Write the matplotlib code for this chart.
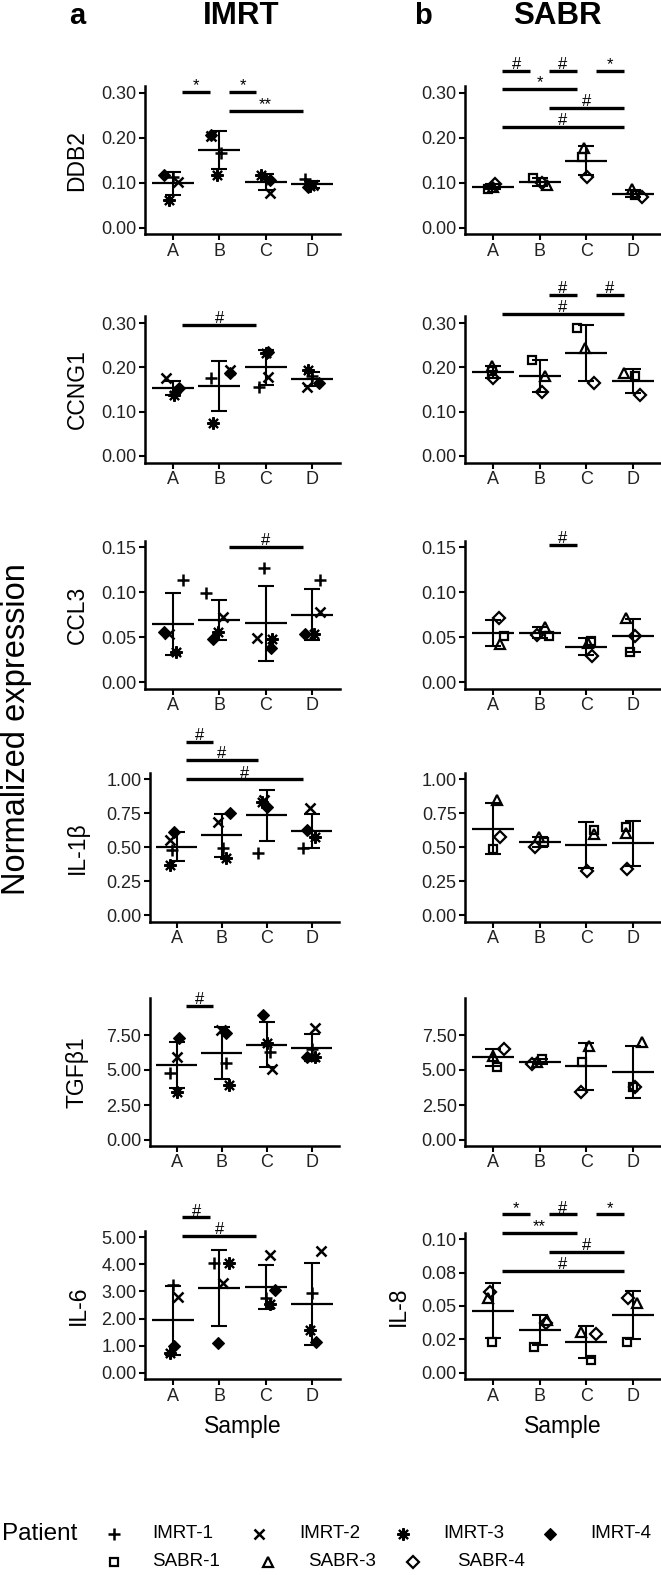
import matplotlib
matplotlib.use("Agg")
import matplotlib.pyplot as plt
import numpy as np
from matplotlib.lines import Line2D

plt.rcParams['font.family'] = ['Liberation Sans', 'DejaVu Sans']

W, H = 661, 1575
fig = plt.figure(figsize=(W / 100, H / 100), dpi=100)

samples = ["A", "B", "C", "D"]
imrt_patients = ["IMRT-1", "IMRT-2", "IMRT-3", "IMRT-4"]
sabr_patients = ["SABR-1", "SABR-3", "SABR-4"]

# expression values: [sample][patient]
ddb2_imrt = [[0.113, 0.102, 0.062, 0.117], [0.165, 0.203, 0.117, 0.206],
             [0.109, 0.076, 0.117, 0.106], [0.108, 0.095, 0.092, 0.091]]
ddb2_sabr = [[0.086, 0.090, 0.097], [0.111, 0.094, 0.100],
             [0.158, 0.176, 0.113], [0.073, 0.085, 0.069]]
ccng1_imrt = [[0.145, 0.175, 0.138, 0.153], [0.175, 0.194, 0.074, 0.187],
              [0.156, 0.179, 0.232, 0.235], [0.180, 0.156, 0.194, 0.165]]
ccng1_sabr = [[0.192, 0.203, 0.175], [0.217, 0.181, 0.145],
              [0.288, 0.243, 0.164], [0.181, 0.187, 0.138]]
ccl3_imrt = [[0.114, 0.054, 0.034, 0.056], [0.099, 0.073, 0.056, 0.048],
             [0.127, 0.049, 0.048, 0.038], [0.114, 0.078, 0.054, 0.054]]
ccl3_sabr = [[0.051, 0.043, 0.071], [0.051, 0.062, 0.053],
             [0.046, 0.044, 0.029], [0.034, 0.071, 0.051]]
il1b_imrt = [[0.480, 0.553, 0.369, 0.614], [0.492, 0.688, 0.418, 0.750],
             [0.455, 0.848, 0.836, 0.799], [0.492, 0.787, 0.578, 0.627]]
il1b_sabr = [[0.487, 0.848, 0.577], [0.541, 0.573, 0.504],
             [0.630, 0.600, 0.325], [0.647, 0.602, 0.337]]
tgfb1_imrt = [[4.76, 5.95, 3.45, 7.26], [5.48, 7.86, 3.93, 7.62],
              [6.31, 5.05, 6.90, 8.93], [6.50, 7.98, 5.95, 5.95]]
tgfb1_sabr = [[5.24, 6.00, 6.48], [5.76, 5.60, 5.43],
              [5.60, 6.71, 3.45], [3.81, 7.02, 3.81]]
il6_imrt = [[3.24, 2.78, 0.72, 0.99], [4.04, 3.32, 4.04, 1.11],
            [2.75, 4.35, 2.54, 3.05], [2.95, 4.49, 1.58, 1.15]]
il8_sabr = [[0.0228, 0.0558, 0.0607], [0.0195, 0.0395, 0.0370],
            [0.0095, 0.0307, 0.0290], [0.0228, 0.0520, 0.0558]]

# horizontal jitter of each point (fraction of category spacing)
ddb2_imrt_jit = [[0.0, 0.10, -0.08, -0.19], [0.04, -0.17, -0.04, -0.17],
                 [0.0, 0.10, -0.10, 0.10], [-0.15, 0.02, -0.05, -0.10]]
ddb2_sabr_jit = [[-0.10, 0.0, 0.05], [-0.14, 0.16, 0.05],
                 [-0.09, -0.06, 0.01], [0.05, -0.02, 0.19]]
ccng1_imrt_jit = [[0.05, -0.15, 0.03, 0.14], [-0.17, 0.22, -0.14, 0.22],
                  [-0.14, 0.04, 0.0, 0.04], [0.0, -0.11, -0.08, 0.14]]
ccng1_sabr_jit = [[-0.02, -0.02, 0.01], [-0.16, 0.12, 0.05],
                  [-0.20, -0.02, 0.16], [0.05, -0.20, 0.16]]
ccl3_imrt_jit = [[0.21, -0.08, 0.06, -0.19], [-0.28, 0.08, -0.03, -0.14],
                 [-0.04, -0.18, 0.14, 0.11], [0.17, 0.17, 0.03, -0.15]]
ccl3_sabr_jit = [[0.23, 0.16, 0.12], [0.19, 0.12, -0.06],
                 [0.09, 0.03, 0.12], [-0.06, -0.16, 0.05]]
il1b_imrt_jit = [[-0.11, -0.15, -0.15, -0.07], [0.03, -0.08, 0.10, 0.18],
                 [-0.19, -0.07, -0.11, 0.0], [-0.19, -0.04, 0.07, -0.11]]
il1b_sabr_jit = [[-0.01, 0.09, 0.16], [0.09, -0.02, -0.11],
                 [0.16, 0.16, 0.01], [-0.16, -0.16, -0.13]]
tgfb1_imrt_jit = [[-0.16, 0.0, 0.0, 0.06], [0.10, -0.01, 0.17, 0.10],
                  [0.07, 0.11, 0.0, -0.08], [0.0, 0.07, 0.07, -0.11]]
tgfb1_sabr_jit = [[0.09, 0.01, 0.23], [0.05, -0.06, -0.16],
                  [-0.09, 0.05, -0.11], [0.01, 0.19, 0.05]]
il6_imrt_jit = [[0.0, 0.11, -0.07, 0.02], [-0.11, 0.07, 0.20, -0.02],
                [0.0, 0.10, 0.10, 0.19], [0.0, 0.18, -0.05, 0.09]]
il8_sabr_jit = [[-0.03, -0.10, -0.06], [-0.13, 0.16, 0.13],
                [0.09, -0.11, 0.20], [-0.12, 0.08, -0.10]]

# significance brackets: (from sample, to sample, height, label)
ddb2_imrt_sig = [(0, 1, 0.302, "*"), (1, 2, 0.302, "*"), (1, 3, 0.260, "**")]
ddb2_sabr_sig = [(0, 1, 0.349, "#"), (1, 2, 0.349, "#"), (2, 3, 0.349, "*"),
                 (0, 2, 0.3076, "*"), (1, 3, 0.266, "#"), (0, 3, 0.2244, "#")]
ccng1_imrt_sig = [(0, 2, 0.2955, "#")]
ccng1_sabr_sig = [(1, 2, 0.363, "#"), (2, 3, 0.363, "#"), (0, 3, 0.320, "#")]
ccl3_imrt_sig = [(1, 3, 0.1507, "#")]
ccl3_sabr_sig = [(1, 2, 0.1526, "#")]
il1b_imrt_sig = [(0, 1, 1.278, "#"), (0, 2, 1.143, "#"), (0, 3, 1.000, "#")]
il1b_sabr_sig = []
tgfb1_imrt_sig = [(0, 1, 9.57, "#")]
tgfb1_sabr_sig = []
il6_imrt_sig = [(0, 1, 5.74, "#"), (0, 2, 5.06, "#")]
il8_sabr_sig = [(0, 1, 0.1187, "*"), (1, 2, 0.1187, "#"), (2, 3, 0.1187, "*"),
                (0, 2, 0.1049, "**"), (1, 3, 0.0907, "#"), (0, 3, 0.0765, "#")]

# marker styles
imrt_styles = [dict(marker='+', ms=9, mew=1.8, color='k'),
               dict(marker='x', ms=7, mew=1.8, color='k'),
               dict(marker=(8, 2, 0), ms=9, mew=1.5, color='k'),
               dict(marker='D', ms=6.2, mew=0.8, color='k', mfc='k')]
sabr_styles = [dict(marker='s', ms=6.3, mew=1.6, color='k', mfc='none'),
               dict(marker='^', ms=7.5, mew=1.6, color='k', mfc='none'),
               dict(marker='D', ms=6.3, mew=1.6, color='k', mfc='none')]

TICK_FS = 13
LAB_FS = 16.5


def panel(x0, x1, zero_px, ppu, ylim, vals, jit, styles, ticks, ticklabels,
          sig, ylabel=None, ylabel_x=None):
    top = zero_px - ylim[1] * ppu
    bot = zero_px - ylim[0] * ppu
    ax = fig.add_axes([x0 / W, 1 - bot / H, (x1 - x0) / W, (bot - top) / H])
    ax.set_xlim(0.4, 4.6)
    ax.set_ylim(*ylim)
    for i, grp in enumerate(vals):
        x = i + 1
        m = np.mean(grp)
        s = np.std(grp, ddof=1)
        ax.errorbar(x, m, yerr=s, fmt='none', ecolor='k', elinewidth=1.5,
                    capsize=6, capthick=1.5, zorder=2)
        ax.hlines(m, x - 0.45, x + 0.45, colors='k', lw=1.6, zorder=2)
        for j, v in enumerate(grp):
            ax.plot(x + jit[i][j], v, linestyle='none', zorder=3, **styles[j])
    for a, b, y, lab in sig:
        ax.plot([a + 1.2, b + 0.8], [y, y], color='k', lw=2.4, clip_on=False,
                solid_capstyle='butt')
        ax.annotate(lab, xy=((a + b) / 2 + 1, y), xytext=(0, 1.2),
                    textcoords='offset points', ha='center', va='baseline',
                    fontsize=12, annotation_clip=False)
    ax.set_xticks(range(1, 5))
    ax.set_xticklabels(samples)
    ax.set_yticks(ticks)
    ax.set_yticklabels(ticklabels)
    for sp in ['top', 'right']:
        ax.spines[sp].set_visible(False)
    for sp in ['left', 'bottom']:
        ax.spines[sp].set_linewidth(1.8)
    ax.tick_params(axis='both', length=4, width=1.5, labelsize=TICK_FS,
                   pad=2, colors='k', labelcolor='#222222')
    if ylabel:
        fig.text(ylabel_x / W, 1 - ((top + bot) / 2) / H, ylabel, rotation=90,
                 ha='center', va='center', fontsize=LAB_FS)
    return ax


LX0, LX1 = 145, 340
LX0b, LX1b = 149.7, 338.7
RX0, RX1 = 465, 661

t3 = [0, 0.1, 0.2, 0.3]
t3l = ["0.00", "0.10", "0.20", "0.30"]
# row 1
panel(LX0, LX1, 227.7, 450, (-0.015, 0.315), ddb2_imrt, ddb2_imrt_jit,
      imrt_styles, t3, t3l, ddb2_imrt_sig, "DDB2", 77)
panel(RX0, RX1, 227.7, 450, (-0.015, 0.315), ddb2_sabr, ddb2_sabr_jit,
      sabr_styles, t3, t3l, ddb2_sabr_sig)
# row 2
panel(LX0, LX1, 456, 443.3, (-0.015, 0.315), ccng1_imrt, ccng1_imrt_jit,
      imrt_styles, t3, t3l, ccng1_imrt_sig, "CCNG1", 77)
panel(RX0, RX1, 456, 443.3, (-0.015, 0.315), ccng1_sabr, ccng1_sabr_jit,
      sabr_styles, t3, t3l, ccng1_sabr_sig)
# row 3
tc = [0, 0.05, 0.10, 0.15]
tcl = ["0.00", "0.05", "0.10", "0.15"]
panel(LX0, LX1, 682.3, 900, (-0.0075, 0.1575), ccl3_imrt, ccl3_imrt_jit,
      imrt_styles, tc, tcl, ccl3_imrt_sig, "CCL3", 77)
panel(RX0, RX1, 682.3, 900, (-0.0075, 0.1575), ccl3_sabr, ccl3_sabr_jit,
      sabr_styles, tc, tcl, ccl3_sabr_sig)
# row 4
ti = [0, 0.25, 0.5, 0.75, 1.0]
til = ["0.00", "0.25", "0.50", "0.75", "1.00"]
panel(LX0b, LX1b, 915, 135.6, (-0.05, 1.05), il1b_imrt, il1b_imrt_jit,
      imrt_styles, ti, til, il1b_imrt_sig, "IL-1β", 77)
panel(RX0, RX1, 915, 135.6, (-0.05, 1.05), il1b_sabr, il1b_sabr_jit,
      sabr_styles, ti, til, il1b_sabr_sig)
# row 5
tt = [0, 2.5, 5.0, 7.5]
ttl = ["0.00", "2.50", "5.00", "7.50"]
panel(LX0b, LX1b, 1140, 14, (-0.43, 10.14), tgfb1_imrt, tgfb1_imrt_jit,
      imrt_styles, tt, ttl, tgfb1_imrt_sig, "TGFβ1", 77)
panel(RX0, RX1, 1140, 14, (-0.43, 10.14), tgfb1_sabr, tgfb1_sabr_jit,
      sabr_styles, tt, ttl, tgfb1_sabr_sig)
# row 6
t6 = [0, 1, 2, 3, 4, 5]
t6l = ["0.00", "1.00", "2.00", "3.00", "4.00", "5.00"]
panel(LX0, LX1, 1372.7, 27.08, (-0.25, 5.25), il6_imrt, il6_imrt_jit,
      imrt_styles, t6, t6l, il6_imrt_sig, "IL-6", 78)
t8 = [0, 0.025, 0.05, 0.075, 0.1]
t8l = ["0.00", "0.02", "0.05", "0.08", "0.10"]
panel(RX0, RX1, 1372.7, 1334, (-0.005, 0.105), il8_sabr, il8_sabr_jit,
      sabr_styles, t8, t8l, il8_sabr_sig, "IL-8", 398)


def px(x, y):
    return x / W, 1 - y / H


# titles
fig.text(*px(77, 24.5), "a", ha='center', va='baseline', fontsize=21, fontweight='bold')
fig.text(*px(241, 24.5), "IMRT", ha='center', va='baseline', fontsize=22.5, fontweight='bold')
fig.text(*px(423, 24.5), "b", ha='center', va='baseline', fontsize=21, fontweight='bold')
fig.text(*px(557, 24.5), "SABR", ha='center', va='baseline', fontsize=22.5, fontweight='bold')

# shared labels
fig.text(*px(16.5, 729), "Normalized expression", rotation=90, ha='center',
         va='center', fontsize=23.5)
fig.text(*px(243, 1427), "Sample", ha='center', va='center', fontsize=LAB_FS)
fig.text(*px(563, 1427), "Sample", ha='center', va='center', fontsize=LAB_FS)

# legend
ROW1, ROW2 = 1534, 1562
fig.text(*px(2, ROW1), "Patient", ha='left', va='center', fontsize=17.5)
row1_mx = [114, 259, 403, 550]
row1_tx = [152, 299, 443, 590]
for name, st, mx, tx in zip(imrt_patients, imrt_styles, row1_mx, row1_tx):
    fig.add_artist(Line2D([mx / W], [1 - ROW1 / H], linestyle='none',
                          transform=fig.transFigure, **st))
    fig.text(*px(tx, ROW1), name, ha='left', va='center', fontsize=13.5)
row2_mx = [114, 268, 413]
row2_tx = [152, 308, 457]
for name, st, mx, tx in zip(sabr_patients, sabr_styles, row2_mx, row2_tx):
    fig.add_artist(Line2D([mx / W], [1 - ROW2 / H], linestyle='none',
                          transform=fig.transFigure, **st))
    fig.text(*px(tx, ROW2), name, ha='left', va='center', fontsize=13.5)

fig.savefig("out.png", dpi=100)
